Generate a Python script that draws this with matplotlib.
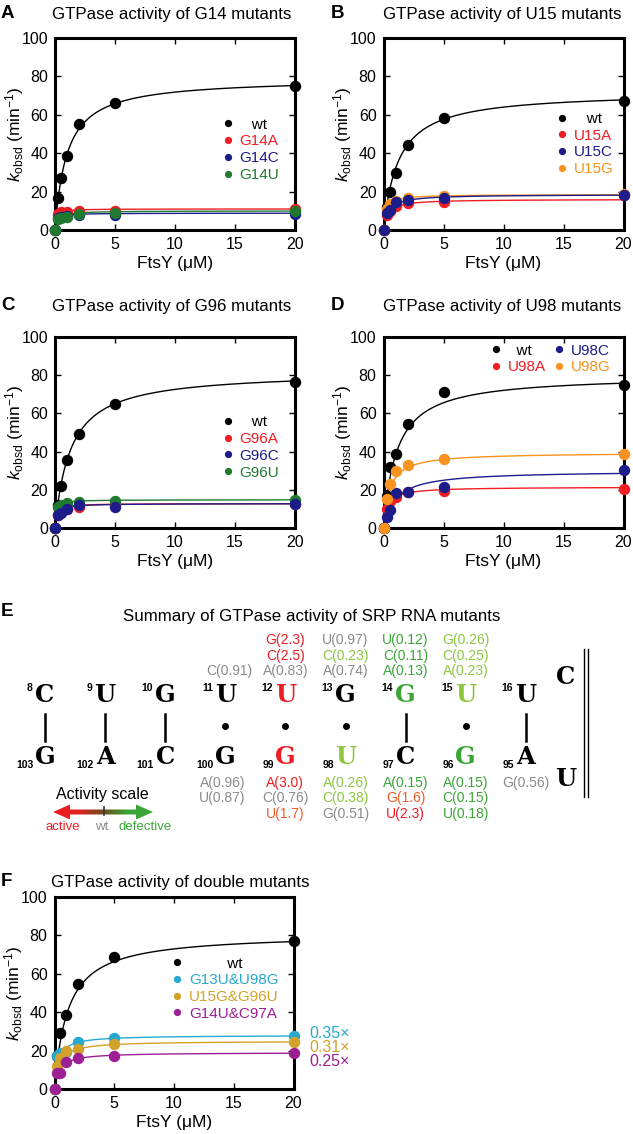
import numpy as np
import matplotlib
matplotlib.use("Agg")
import matplotlib.pyplot as plt
from matplotlib.patches import Polygon
from matplotlib.lines import Line2D
from matplotlib.colors import LinearSegmentedColormap

plt.rcParams['font.family'] = ['Liberation Sans', 'DejaVu Sans']
plt.rcParams['mathtext.fontset'] = 'custom'
plt.rcParams['mathtext.rm'] = 'Liberation Sans'
plt.rcParams['mathtext.it'] = 'Liberation Sans:italic'

# ------------------------------------------------------------------ data
conc = [0, 0.25, 0.5, 1, 2, 5, 20]          # FtsY (uM)

A_labels = ["wt", "G14A", "G14C", "G14U"]
A_wt   = [0, 16.5, 27.0, 38.5, 55.0, 66.0, 75.0]
A_G14A = [0, 8.5, 9.5, 9.5, 10.0, 10.0, 11.0]
A_G14C = [0, 6.0, 7.0, 7.5, 8.0, 8.0, 8.5]
A_G14U = [0, 5.5, 6.5, 7.0, 8.5, 9.0, 10.0]
A_kmax = [79, 11.0, 8.8, 10.0]
A_km   = [1.0, 0.10, 0.15, 0.25]

B_labels = ["wt", "U15A", "U15C", "U15G"]
B_wt   = [0, 12.0, 20.0, 29.5, 44.5, 58.5, 67.0]
B_U15A = [0, 8.0, 10.0, 12.5, 14.0, 14.5, 18.0]
B_U15C = [0, 9.0, 10.5, 14.5, 15.5, 16.5, 18.0]
B_U15G = [0, 11.0, 13.5, 15.0, 16.5, 17.5, 18.5]
B_kmax = [72, 16.0, 18.5, 18.5]
B_km   = [1.25, 0.35, 0.40, 0.20]

C_labels = ["wt", "G96A", "G96C", "G96U"]
C_wt   = [0, 12.0, 22.0, 35.5, 49.0, 65.0, 76.5]
C_G96A = [0, 7.0, 9.0, 10.0, 11.0, 12.0, 12.5]
C_G96C = [0, 7.0, 8.0, 10.0, 12.0, 11.0, 12.5]
C_G96U = [0, 11.0, 12.0, 13.0, 13.5, 14.0, 14.5]
C_kmax = [82, 12.8, 12.8, 14.8]
C_km   = [1.3, 0.15, 0.20, 0.10]

D_labels = ["wt", "U98A", "U98C", "U98G"]
D_wt   = [0, 17.0, 32.0, 39.0, 54.5, 71.0, 75.0]
D_U98A = [0, 10.0, 14.0, 16.0, 19.0, 19.5, 20.5]
D_U98C = [0, 6.0, 9.5, 18.5, 19.0, 21.5, 30.5]
D_U98G = [0, 15.0, 23.0, 30.0, 33.0, 36.0, 38.5]
D_kmax = [80, 21.5, 30.0, 39.5]
D_km   = [1.1, 0.35, 1.0, 0.5]

F_labels = ["wt", "G13U&U98G", "U15G&G96U", "G14U&C97A"]
F_wt     = [0, 17.0, 29.0, 38.5, 54.5, 68.5, 77.0]
F_G13U   = [0, 17.0, 19.0, 19.5, 24.5, 26.5, 27.5]
F_U15G   = [0, 12.0, 16.0, 20.0, 21.0, 23.5, 24.5]
F_G14U   = [0, 8.5, 8.5, 14.0, 16.0, 17.0, 18.5]
F_kmax = [81, 28.0, 25.0, 19.0]
F_km   = [1.1, 0.30, 0.40, 0.40]
F_ratio = ["0.35\u00d7", "0.31\u00d7", "0.25\u00d7"]

# panel E: SRP RNA helix summary
top_nt   = ["C", "U", "G", "U", "U", "G", "G", "U", "U"]
top_num  = ["8", "9", "10", "11", "12", "13", "14", "15", "16"]
bot_nt   = ["G", "A", "C", "G", "G", "U", "C", "G", "A"]
bot_num  = ["103", "102", "101", "100", "99", "98", "97", "96", "95"]
pair_type = ["wc", "wc", "wc", "gu", "gu", "gu", "wc", "gu", "wc"]
loop_nt = ["C", "U"]
# mutant activities (relative to wt), listed outward from the helix
top_mut = [[], [], [],
           [("C", "0.91")],
           [("A", "0.83"), ("C", "2.5"), ("G", "2.3")],
           [("A", "0.74"), ("C", "0.23"), ("U", "0.97")],
           [("A", "0.13"), ("C", "0.11"), ("U", "0.12")],
           [("A", "0.23"), ("C", "0.25"), ("G", "0.26")],
           []]
bot_mut = [[], [], [],
           [("A", "0.96"), ("U", "0.87")],
           [("A", "3.0"), ("C", "0.76"), ("U", "1.7")],
           [("A", "0.26"), ("C", "0.38"), ("G", "0.51")],
           [("A", "0.15"), ("G", "1.6"), ("U", "2.3")],
           [("A", "0.15"), ("C", "0.15"), ("U", "0.18")],
           [("G", "0.56")]]
top_nt_color = ["k", "k", "k", "k", "#ee1c24", "k", "#3aa535", "#8cc63f", "k"]
bot_nt_color = ["k", "k", "k", "k", "#ee1c24", "#8cc63f", "k", "#3aa535", "k"]

# ------------------------------------------------------------------ style
RED, BLUE, GREEN, ORANGE = "#f01e23", "#1c1c8a", "#1f7a30", "#f7931e"
CYAN, GOLD, PURPLE = "#25a9cf", "#d2a12a", "#9c1f94"

W, H = 633, 1134
fig = plt.figure(figsize=(W / 100, H / 100), dpi=100)

canvas = fig.add_axes([0, 0, 1, 1], zorder=-5)
canvas.set_xlim(0, W)
canvas.set_ylim(H, 0)
canvas.axis("off")


def pix_axes(left, top, right, bottom):
    return fig.add_axes([left / W, 1 - bottom / H, (right - left) / W, (bottom - top) / H])


def kin_panel(ax, labels, series, kmax, km, colors, order, leg_anchor,
              ncol=1, wt_pad="   "):
    xf = np.linspace(0, 20, 500)
    for rank, i in enumerate(order):
        ax.plot(xf, kmax[i] * xf / (km[i] + xf), color=colors[i], lw=1.0,
                zorder=2 + rank * 0.01)
    for rank, i in enumerate(order):
        ax.plot(conc, series[i], "o", color=colors[i], ms=7.2, mec=colors[i],
                clip_on=False, zorder=5 + rank)
    ax.set_xlim(0, 20)
    ax.set_ylim(0, 100)
    ax.set_xticks([0, 5, 10, 15, 20])
    ax.set_yticks([0, 20, 40, 60, 80, 100])
    ax.tick_params(direction="in", top=True, right=True, length=4, width=1,
                   labelsize=11.5, pad=5)
    for sp in ax.spines.values():
        sp.set_linewidth(2.2)
    ax.set_xlabel("FtsY (\u03bcM)", fontsize=12.5, labelpad=3)
    ax.set_ylabel(r"$k_{\mathrm{obsd}}$ (min$^{-1}$)", fontsize=12.5, labelpad=-3)
    handles = [Line2D([], [], marker="o", ls="", color=c, ms=4.2) for c in colors]
    labs = [(wt_pad + l) if l == "wt" else l for l in labels]
    leg = ax.legend(handles, labs, loc="upper left", bbox_to_anchor=leg_anchor,
                    frameon=False, fontsize=11, handlelength=0.6,
                    handletextpad=0.45, labelspacing=0.18, borderpad=0,
                    borderaxespad=0, ncol=ncol, columnspacing=0.6)
    for t, c in zip(leg.get_texts(), colors):
        t.set_color(c)
    return ax


axA = pix_axes(55, 38, 295, 230)
kin_panel(axA, A_labels, [A_wt, A_G14A, A_G14C, A_G14U], A_kmax, A_km,
          ["k", RED, BLUE, GREEN], [0, 1, 2, 3], (0.70, 0.585))

axB = pix_axes(383.5, 38, 623.5, 230)
kin_panel(axB, B_labels, [B_wt, B_U15A, B_U15C, B_U15G], B_kmax, B_km,
          ["k", RED, BLUE, ORANGE], [0, 1, 3, 2], (0.725, 0.615))

axC = pix_axes(55, 337, 295, 528)
kin_panel(axC, C_labels, [C_wt, C_G96A, C_G96C, C_G96U], C_kmax, C_km,
          ["k", RED, BLUE, GREEN], [0, 1, 3, 2], (0.70, 0.59))

axD = pix_axes(383.5, 337, 623.5, 528)
kin_panel(axD, D_labels, [D_wt, D_U98A, D_U98C, D_U98G], D_kmax, D_km,
          ["k", RED, BLUE, ORANGE], [0, 1, 2, 3], (0.45, 0.965), ncol=2,
          wt_pad="  ")

axF = pix_axes(54.5, 897, 293.5, 1089)
kin_panel(axF, F_labels, [F_wt, F_G13U, F_U15G, F_G14U], F_kmax, F_km,
          ["k", CYAN, GOLD, PURPLE], [0, 1, 2, 3], (0.495, 0.69),
          wt_pad="         ")
for k, (txt, c) in enumerate(zip(F_ratio, [CYAN, GOLD, PURPLE])):
    canvas.text(309, 1033 + 14.5 * k, txt, color=c, fontsize=11.5,
                ha="left", va="center")

# titles and panel letters
titles = [(172, 15, "GTPase activity of G14 mutants"),
          (502, 15, "GTPase activity of U15 mutants"),
          (172, 307, "GTPase activity of G96 mutants"),
          (502, 307, "GTPase activity of U98 mutants"),
          (312, 616, "Summary of GTPase activity of SRP RNA mutants"),
          (180, 882, "GTPase activity of double mutants")]
for x, y, t in titles:
    canvas.text(x, y, t, fontsize=12.2, ha="center", va="center")
for x, y, t in [(1, 14, "A"), (331, 14, "B"), (1, 305, "C"), (331, 305, "D"),
                (1, 612, "E"), (1, 882, "F")]:
    canvas.text(x, y, t, fontsize=13.5, fontweight="bold", ha="left", va="center")

# ------------------------------------------------------------------ panel E
def act_color(v):
    v = float(v)
    if v >= 2.0:
        return "#ee1c24"
    if v >= 1.2:
        return "#f15a29"
    if v >= 0.5:
        return "#8a8a8a"
    if v >= 0.2:
        return "#8cc63f"
    return "#3aa535"


col_x0, col_dx = 45, 60.1
y_top, y_bot = 695, 757
nt_font = dict(family=["DejaVu Serif"], fontweight="bold", fontsize=17.5,
               ha="center", va="center")
for i in range(len(top_nt)):
    x = col_x0 + col_dx * i
    canvas.text(x, y_top, top_nt[i], color=top_nt_color[i], **nt_font)
    canvas.text(x, y_bot, bot_nt[i], color=bot_nt_color[i], **nt_font)
    canvas.text(x - 12.5, y_top - 7, top_num[i], fontsize=7.5, fontweight="bold",
                ha="right", va="center")
    canvas.text(x - 11.5, y_bot + 8, bot_num[i], fontsize=7.5, fontweight="bold",
                ha="right", va="center")
    if pair_type[i] == "wc":
        canvas.plot([x, x], [714, 741], color="k", lw=1.8)
    else:
        canvas.plot([x], [725.5], "o", color="k", ms=4)
    for k, (b, v) in enumerate(top_mut[i]):
        canvas.text(x + (4 if i == 3 else 0), 671 - 15.4 * k, f"{b}({v})",
                    color=act_color(v), fontsize=10, ha="center", va="center")
    for k, (b, v) in enumerate(bot_mut[i]):
        canvas.text(x - (3 if i == 3 else 0), 783 + 15.4 * k, f"{b}({v})",
                    color=act_color(v), fontsize=10, ha="center", va="center")

canvas.text(566, 677, loop_nt[0], **nt_font)
canvas.text(566, 779, loop_nt[1], **nt_font)
canvas.plot([584, 584], [649, 797], color="k", lw=1.0)
canvas.plot([588, 588], [649, 797], color="k", lw=1.0)

# activity scale
canvas.text(102, 794, "Activity scale", fontsize=11.5, ha="center", va="center")
cmap = LinearSegmentedColormap.from_list(
    "act", ["#ee1c24", "#e2231f", "#6e4a1f", "#3aa535", "#3aa535"])
grad = np.linspace(0, 1, 256)[np.newaxis, :]
im = canvas.imshow(grad, extent=(53, 153, 819.5, 804.5), cmap=cmap,
                   aspect="auto", zorder=2)
arrow = Polygon([(53, 812), (70, 804.5), (70, 809.5), (136, 809.5), (136, 804.5),
                 (153, 812), (136, 819.5), (136, 814.5), (70, 814.5), (70, 819.5)],
                closed=True, transform=canvas.transData, fc="none", ec="none")
canvas.add_patch(arrow)
im.set_clip_path(arrow)
canvas.plot([104, 104], [807, 815], color="#333333", lw=1.2, zorder=3)
canvas.text(63, 827, "active", color="#ee1c24", fontsize=9.5, ha="center", va="center")
canvas.text(102, 827, "wt", color="#8a8a8a", fontsize=9.5, ha="center", va="center")
canvas.text(145, 827, "defective", color="#3aa535", fontsize=9.5, ha="center", va="center")
canvas.set_xlim(0, W)
canvas.set_ylim(H, 0)

fig.savefig("out.png", dpi=100)
